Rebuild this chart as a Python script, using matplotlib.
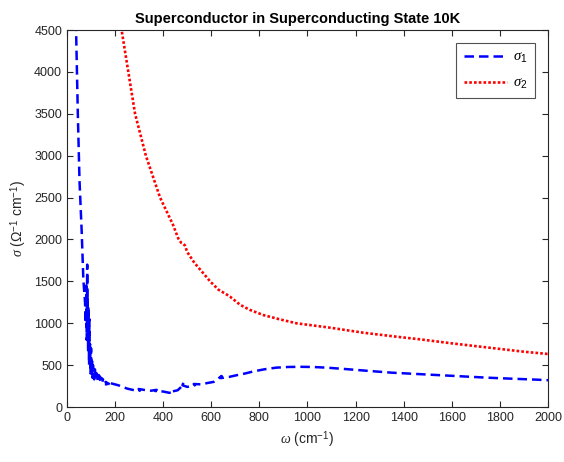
import numpy as np
import matplotlib
matplotlib.use("Agg")
import matplotlib.pyplot as plt

plt.rcParams['font.family'] = ['Liberation Sans', 'DejaVu Sans']
plt.rcParams['mathtext.fontset'] = 'custom'
plt.rcParams['mathtext.rm'] = 'Liberation Sans'
plt.rcParams['mathtext.it'] = 'Liberation Serif:italic'

# sigma_1 (real part)
omega1 = [37, 45, 52, 61, 68, 75, 78, 80, 82, 84, 85, 86, 88, 89, 90, 92, 93, 95, 96, 98,
          100, 102, 104, 106, 108, 110, 113, 116, 120, 124, 128, 133, 140, 136, 150, 145,
          165, 160, 185, 180, 213, 250, 280, 303, 298, 330, 350, 373, 368, 400, 425, 442,
          437, 460, 475, 484, 480, 500, 515, 532, 527, 560, 581, 610, 643, 639, 675, 706,
          740, 775, 820, 870, 920, 970, 1020, 1080, 1150, 1250, 1350, 1450, 1550, 1650,
          1750, 1850, 1950, 2000]
sigma1 = [4600, 3500, 2700, 2100, 1520, 1250, 1000, 1450, 800, 1700, 1100, 1300, 650, 1200,
          900, 500, 1050, 600, 750, 400, 700, 450, 550, 350, 500, 420, 330, 450, 330, 400,
          300, 380, 290, 360, 330, 280, 270, 300, 260, 285, 260, 220, 200, 195, 215, 200,
          195, 205, 190, 185, 170, 172, 185, 200, 240, 290, 260, 240, 250, 260, 275, 270,
          285, 300, 370, 345, 360, 380, 400, 425, 450, 470, 478, 480, 478, 470, 455, 432,
          410, 395, 380, 365, 350, 338, 327, 320]

# sigma_2 (imaginary part)
omega2 = [200, 227, 255, 283, 328, 387, 440, 463, 475, 482, 490, 500, 530, 560, 595, 630,
          660, 678, 720, 760, 816, 880, 955, 1094, 1232, 1371, 1468, 1600, 1750, 1900, 2000]
sigma2 = [5000, 4500, 4000, 3500, 3000, 2500, 2180, 2010, 1960, 1950, 1930, 1850, 1720,
          1620, 1500, 1400, 1350, 1317, 1220, 1160, 1098, 1050, 999, 947, 887, 839, 808,
          760, 710, 660, 633]

fig = plt.figure(figsize=(5.64, 4.62), dpi=100)
ax = fig.add_axes([0.1188, 0.119, 0.8528, 0.816])

ax.plot(omega1, sigma1, color='#0000ff', linewidth=1.8, dashes=(3.8, 2), label=r'$\sigma_1$')
ax.plot(omega2, sigma2, color='#ff0000', linewidth=1.9, dashes=(1, 0.8), label=r'$\sigma_2$')

ax.set_xlim(0, 2000)
ax.set_ylim(0, 4500)
ax.set_xticks(np.arange(0, 2001, 200))
ax.set_yticks(np.arange(0, 4501, 500))

col = '#262626'
for s in ax.spines.values():
    s.set_color(col)
    s.set_linewidth(0.8)
ax.tick_params(direction='in', top=True, right=True, length=4, width=0.8,
               colors=col, labelsize=9)

ax.set_title('Superconductor in Superconducting State 10K', fontsize=10.5,
             fontweight='bold', color='black', pad=5, x=0.48)
ax.set_xlabel(r'$\omega$ (cm$^{-1}$)', fontsize=10, color=col)
ax.set_ylabel(r'$\sigma$ ($\Omega^{-1}$ cm$^{-1}$)', fontsize=10, color=col)

leg = ax.legend(loc='upper right', bbox_to_anchor=(0.973, 0.9655), borderaxespad=0,
                fontsize=10.5, fancybox=False, edgecolor=col, handlelength=3.0,
                borderpad=0.5, labelspacing=0.7, handletextpad=0.4)
leg.get_frame().set_linewidth(0.8)

fig.savefig('out.png', dpi=100)
